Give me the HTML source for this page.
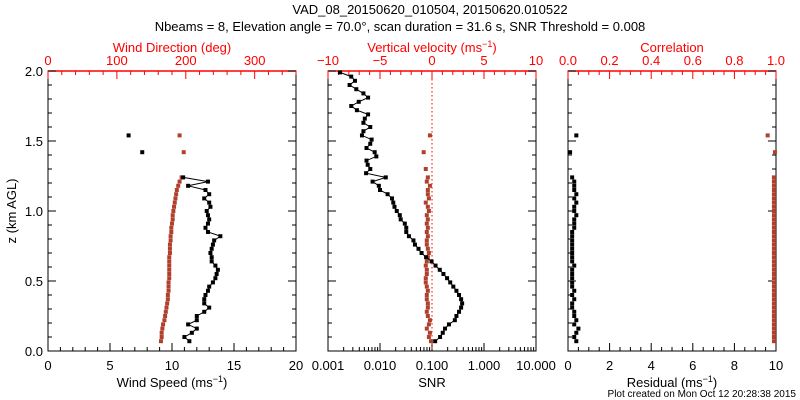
<!DOCTYPE html>
<html><head><meta charset="utf-8"><style>
html,body{margin:0;padding:0;background:#fff;}
svg{display:block;font-family:"Liberation Sans",sans-serif;}
</style></head><body>
<svg id="chart" width="800" height="400" viewBox="0 0 800 400" xmlns="http://www.w3.org/2000/svg">
<text x="430" y="14" font-size="13" text-anchor="middle">VAD_08_20150620_010504, 20150620.010522</text>
<text x="400" y="31" font-size="13" text-anchor="middle">Nbeams = 8, Elevation angle = 70.0°, scan duration = 31.6 s, SNR Threshold = 0.008</text>
<g id="g"></g>
</svg>
<script>
// ----- data -----
const heights = [0.07,0.10,0.13,0.16,0.19,0.22,0.25,0.28,0.31,0.34,0.37,0.40,0.43,0.46,0.49,0.52,0.55,0.58,0.61,0.64,0.67,0.70,0.73,0.76,0.79,0.82,0.85,0.88,0.91,0.94,0.97,1.00,1.03,1.06,1.09,1.12,1.15,1.18,1.21,1.24];
const windSpeed = [11.4,11.0,11.6,12.0,11.3,12.0,12.0,12.6,13.0,12.6,12.6,12.7,12.9,13.0,13.3,13.5,13.6,13.7,13.5,13.2,13.2,13.1,13.2,13.3,13.4,13.9,12.9,12.7,12.9,13.0,12.9,12.8,13.1,13.0,12.6,13.0,12.7,11.3,12.9,10.9];
const windDir = [164,165,165,166,167,169,170,171,172,173,174,174,175,175,175,176,176,176,176,176,176,177,177,177,178,178,179,179,180,181,181,182,183,184,185,186,187,189,191,194];
const outlierHeights = [1.42,1.54];
const outlierSpeed = [7.6,6.5];
const outlierDir = [197,191];
const snrHeights = [0.07,0.10,0.13,0.16,0.19,0.22,0.25,0.28,0.31,0.34,0.37,0.40,0.43,0.46,0.49,0.52,0.55,0.58,0.61,0.64,0.67,0.70,0.73,0.76,0.79,0.82,0.85,0.88,0.91,0.94,0.97,1.00,1.03,1.06,1.09,1.12,1.15,1.18,1.21,1.24,1.27,1.30,1.33,1.36,1.39,1.42,1.45,1.48,1.51,1.54,1.57,1.60,1.63,1.66,1.69,1.72,1.75,1.78,1.81,1.84,1.87,1.90,1.93,1.96,1.99];
const snr = [0.115,0.143,0.161,0.178,0.212,0.275,0.295,0.331,0.363,0.380,0.363,0.331,0.295,0.257,0.224,0.195,0.166,0.141,0.117,0.098,0.077,0.063,0.055,0.047,0.044,0.036,0.032,0.032,0.030,0.025,0.024,0.021,0.019,0.018,0.017,0.014,0.010,0.0095,0.0072,0.0129,0.0054,0.0065,0.0058,0.0055,0.0085,0.0079,0.0055,0.0065,0.0069,0.0045,0.0048,0.0065,0.0048,0.0051,0.0059,0.0036,0.0028,0.0039,0.0059,0.0048,0.0035,0.0026,0.0033,0.0028,0.0017];
const wHeights = [0.07,0.10,0.13,0.16,0.19,0.22,0.25,0.28,0.31,0.34,0.37,0.40,0.43,0.46,0.49,0.52,0.55,0.58,0.61,0.64,0.67,0.70,0.73,0.76,0.79,0.82,0.85,0.88,0.91,0.94,0.97,1.00,1.03,1.06,1.09,1.12,1.15,1.18,1.21,1.24,1.30,1.42,1.54];
const wVel = [-0.1,-0.3,-0.2,-0.5,-0.3,-0.2,-0.4,-0.5,-0.4,-0.4,-0.5,-0.5,-0.4,-0.5,-0.6,-0.6,-0.5,-0.5,-0.6,-0.5,-0.4,-0.3,-0.4,-0.5,-0.5,-0.4,-0.5,-0.4,-0.5,-0.4,-0.5,-0.3,-0.4,-0.6,-0.3,-0.4,-0.4,-0.2,-0.5,-0.4,-0.6,-0.8,-0.2];
const residual = [0.4,0.3,0.4,0.5,0.3,0.4,0.3,0.3,0.2,0.2,0.3,0.2,0.3,0.2,0.2,0.2,0.2,0.2,0.3,0.2,0.2,0.2,0.2,0.2,0.2,0.2,0.2,0.3,0.3,0.3,0.4,0.3,0.3,0.4,0.3,0.4,0.3,0.3,0.3,0.2];
const correlation = [0.99,0.99,0.99,0.99,0.99,0.99,0.99,0.99,0.99,0.99,0.99,0.99,0.99,0.99,0.99,0.99,0.99,0.99,0.99,0.99,0.99,0.99,0.99,0.99,0.99,0.99,0.99,0.99,0.99,0.99,0.99,0.99,0.99,0.99,0.99,0.99,0.99,0.99,0.99,0.99];
const outlierResidual = [0.1,0.4];
const outlierCorr = [0.995,0.96];

const NS="http://www.w3.org/2000/svg";
const G=document.getElementById('g');
const RED="#ff0000", BROWN="#b0402c";
const Y0=351, Y1=71;
function yz(z){return Y0-(z/2)*(Y0-Y1);}
function mk(tag,attrs,parent){const e=document.createElementNS(NS,tag);for(const k in attrs)e.setAttribute(k,attrs[k]);(parent||G).appendChild(e);return e;}
function txt(s,x,y,attrs){const t=mk('text',Object.assign({x:x,y:y,'font-size':13,'text-anchor':'middle'},attrs||{}));t.textContent=s;return t;}
function unitLabel(pre,x,y,fill,name){
  const t=mk('text',{x:x,y:y,'font-size':13,'text-anchor':'middle',fill:fill});
  
  
  const a=mk('tspan',{},t);a.textContent=pre+'(ms';
  const b=mk('tspan',{dy:-5,'font-size':9},t);b.textContent='−1';
  const c=mk('tspan',{dy:5},t);c.textContent=')';
  return t;
}
function frame(x0,x1,name){
  const r=mk('rect',{x:x0,y:Y1,width:x1-x0,height:Y0-Y1,fill:'none',stroke:'#000','stroke-width':1});
  
  
  mk('line',{x1:x0,x2:x1,y1:Y1,y2:Y1,stroke:RED,'stroke-width':1.5});
  for(let i=0;i<=20;i++){const y=yz(i*0.1);const L=(i%5==0)?8:4;
    mk('line',{x1:x0,x2:x0+L,y1:y,y2:y,stroke:'#000'});
    mk('line',{x1:x1-L,x2:x1,y1:y,y2:y,stroke:'#000'});}
}
function linTicks(x0,x1,lo,hi,major,minor,top,color,fmt,name){
  const f=v=>x0+(v-lo)/(hi-lo)*(x1-x0);
  const n=Math.round((hi-lo)/minor);
  for(let i=0;i<=n;i++){const v=lo+i*minor;const isM=Math.abs(((v-lo)/major)-Math.round((v-lo)/major))<1e-6;const L=isM?8:4;const x=f(v);
    if(top) mk('line',{x1:x,x2:x,y1:Y1,y2:Y1+L,stroke:color});
    else mk('line',{x1:x,x2:x,y1:Y0,y2:Y0-L,stroke:color});
    if(isM){const t=txt(fmt(v),x,top?Y1-6:Y0+19,{fill:color});
      
      }
  }
  return f;
}
function marker(x,y,fill,name){const r=mk('rect',{x:x-2,y:y-2,width:4,height:4,fill:fill});
  
  }
function series(xs,zs,fx,fill,line,name){
  if(line){let d='';xs.forEach((v,i)=>{d+=(i?'L':'M')+fx(v).toFixed(1)+','+yz(zs[i]).toFixed(1);});
    const p=mk('path',{d:d,fill:'none',stroke:fill,'stroke-width':1});
    
    }
  xs.forEach((v,i)=>marker(fx(v),yz(zs[i]),fill,name+'-point'));
}

// ----- panel 1 -----
const P1=[48,296];
frame(P1[0],P1[1],'wind-panel-frame');
const fSpd=linTicks(P1[0],P1[1],0,20,5,1,false,'#000',v=>String(v),'wind-speed-tick');
const fDir=linTicks(P1[0],P1[1],0,360,100,20,true,RED,v=>String(v),'wind-direction-tick');
for(let i=0;i<=4;i++){const t=txt(['0.0','0.5','1.0','1.5','2.0'][i],P1[0]-5,yz(i*0.5)+5,{'text-anchor':'end'});
  
  }
const yl=txt('z (km AGL)',0,0,{transform:'translate(16,211) rotate(-90)'});


const dt=txt('Wind Direction (deg)',172,52,{fill:RED});


unitLabel('Wind Speed ',172,387,'#000','wind-speed-title');
series(windDir,heights,fDir,BROWN,false,'wind-direction');
series(outlierDir,outlierHeights,fDir,BROWN,false,'wind-direction-outlier');
series(windSpeed,heights,fSpd,'#000',true,'wind-speed');
series(outlierSpeed,outlierHeights,fSpd,'#000',false,'wind-speed-outlier');

// ----- panel 2 -----
const P2=[328,536];
frame(P2[0],P2[1],'snr-panel-frame');
const fSnr=v=>P2[0]+(Math.log10(v)+3)/4*(P2[1]-P2[0]);
['0.001','0.010','0.100','1.000','10.000'].forEach((s,i)=>{const x=P2[0]+i*52;
  mk('line',{x1:x,x2:x,y1:Y0,y2:Y0-8,stroke:'#000'});
  if(i<4)for(let k=2;k<10;k++){const xx=x+Math.log10(k)*52;mk('line',{x1:xx,x2:xx,y1:Y0,y2:Y0-4,stroke:'#000'});}
  const t=txt(s,x,Y0+19);
  
  });
const fW=linTicks(P2[0],P2[1],-10,10,5,1,true,RED,v=>v<0?'−'+(-v):String(v),'vertical-velocity-tick');
mk('line',{x1:fW(0),x2:fW(0),y1:Y1,y2:Y0,stroke:RED,'stroke-dasharray':'1.5,2.5'});
unitLabel('Vertical velocity ',432,52,RED,'vertical-velocity-title');
const st=txt('SNR',432,387);


series(wVel,wHeights,fW,BROWN,false,'vertical-velocity');
series(snr,snrHeights,fSnr,'#000',true,'snr');

// ----- panel 3 -----
const P3=[568,776];
frame(P3[0],P3[1],'residual-panel-frame');
const fRes=linTicks(P3[0],P3[1],0,10,2,0.5,false,'#000',v=>String(v),'residual-tick');
const fCor=linTicks(P3[0],P3[1],0,1,0.2,0.05,true,RED,v=>v.toFixed(1),'correlation-tick');
const ct=txt('Correlation',672,52,{fill:RED});


unitLabel('Residual ',672,387,'#000','residual-title');
series(correlation,heights,fCor,BROWN,false,'correlation');
series(outlierCorr,outlierHeights,fCor,BROWN,false,'correlation-outlier');
series(residual,heights,fRes,'#000',false,'residual');
series(outlierResidual,outlierHeights,fRes,'#000',false,'residual-outlier');

const ft=txt('Plot created on Mon Oct 12 20:28:38 2015',796,397,{'font-size':10,'text-anchor':'end'});


</script>
</body></html>
